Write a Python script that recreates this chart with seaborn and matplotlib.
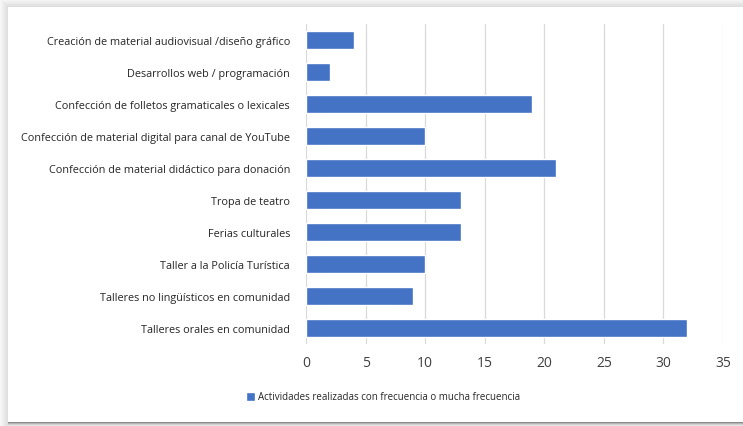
import matplotlib
matplotlib.use("Agg")
import matplotlib.pyplot as plt
from matplotlib.patches import Rectangle
import seaborn as sns
import pandas as pd

categories = [
    "Creación de material audiovisual /diseño gráfico",
    "Desarrollos web / programación",
    "Confección de folletos gramaticales o lexicales",
    "Confección de material digital para canal de YouTube",
    "Confección de material didáctico para donación",
    "Tropa de teatro",
    "Ferias culturales",
    "Taller a la Policía Turística",
    "Talleres no lingüísticos en comunidad",
    "Talleres orales en comunidad",
]
values = [4, 2, 19, 10, 21, 13, 13, 10, 9, 32]
series_name = "Actividades realizadas con frecuencia o mucha frecuencia"
x_ticks = [0, 5, 10, 15, 20, 25, 30, 35]

df = pd.DataFrame({"categoria": categories, "valor": values})

sns.set_theme(style="white")
plt.rcParams["font.family"] = ["Open Sans", "DejaVu Sans"]

W, H = 743, 427
fig = plt.figure(figsize=(W / 100, H / 100), dpi=100)
fig.patch.set_facecolor("white")

# card shadow around the chart area
for i in range(8):
    shade = 0.97 - 0.014 * i
    fig.patches.append(Rectangle((i / W, 0), 1 / W, 1 - i / H, transform=fig.transFigure,
                                 facecolor=(shade, shade, shade), edgecolor="none", zorder=0))
    fig.patches.append(Rectangle((i / W, 1 - (i + 1) / H), 1, 1 / H, transform=fig.transFigure,
                                 facecolor=(shade, shade, shade), edgecolor="none", zorder=0))
for j, shade in enumerate([0.55, 0.7, 0.82, 0.9]):
    fig.patches.append(Rectangle((8 / W, (3 - j) / H), 1, 1 / H, transform=fig.transFigure,
                                 facecolor=(shade, shade, shade), edgecolor="none", zorder=0))

ax = fig.add_axes([306 / W, 1 - 345 / H, (723 - 306) / W, (345 - 25) / H])
ax.set_facecolor("none")

sns.barplot(data=df, x="valor", y="categoria", ax=ax, color="#4472C4",
            width=0.57, saturation=1, label=series_name)

ax.set_xlim(0, 35)
ax.set_ylim(9.5, -0.5)
ax.set_xticks(x_ticks)
ax.set_xticklabels([str(t) for t in x_ticks])
ax.grid(axis="x", color="#d9d9d9", linewidth=0.9)
ax.grid(axis="y", visible=False)
ax.set_axisbelow(True)
for s in ax.spines.values():
    s.set_visible(False)
ax.set_xlabel("")
ax.set_ylabel("")
ax.tick_params(axis="x", labelsize=10, colors="#404040", length=0, pad=8)
ax.tick_params(axis="y", labelsize=7.8, colors="#262626", length=0, pad=11.5)

if ax.legend_:
    ax.legend_.remove()
handles, labels = ax.get_legend_handles_labels()
fig.legend(handles[:1], labels[:1], loc="center", bbox_to_anchor=(383 / W, 1 - 398 / H),
           frameon=False, fontsize=7, handlelength=1.0, handleheight=1.0, handletextpad=0.3,
           labelcolor="#262626")

fig.savefig("out.png", dpi=100)
